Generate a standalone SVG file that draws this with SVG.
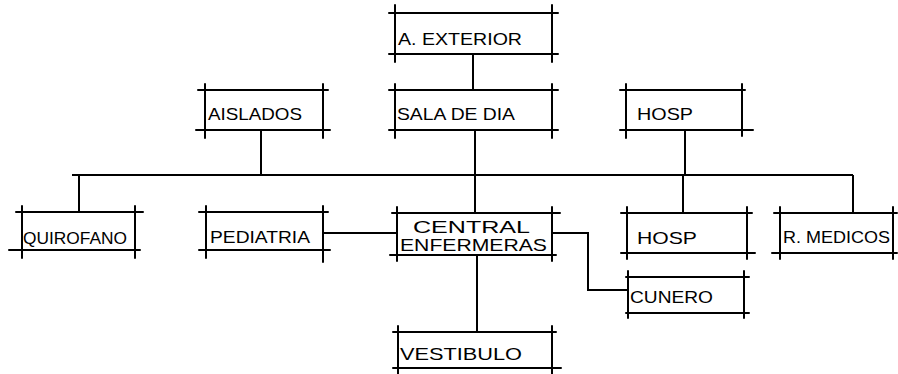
<svg xmlns="http://www.w3.org/2000/svg" width="898" height="374" viewBox="0 0 898 374">
<style>
.b{fill:none;stroke:#000;stroke-width:2;stroke-linecap:round}
.c{fill:none;stroke:#000;stroke-width:2}
.t{font-family:"Liberation Sans","DejaVu Sans",sans-serif;font-size:17px;fill:#000}
</style>
<rect width="898" height="374" fill="#fff"/>
<g id="connectors">
<path class="c" d="M473 54V90"/>
<path class="c" d="M475 130V213"/>
<path class="c" d="M261 130V175"/>
<path class="c" d="M685 130V175"/>
<path class="c" d="M72 175H853"/>
<path class="c" d="M79 175V212"/>
<path class="c" d="M683 175V213"/>
<path class="c" d="M853 175V213"/>
<path class="c" d="M323 233H397"/>
<path class="c" d="M552 233H588V290H628"/>
<path class="c" d="M477 255V332"/>
</g>
<g id="exterior">
<path class="b" d="M389 13H558M389 54H558M395 5V62M552 5V62"/>
<text class="t" x="398" y="45" textLength="124" lengthAdjust="spacingAndGlyphs">A. EXTERIOR</text>
</g>
<g id="aislados">
<path class="b" d="M198 90H328M196 130H330M205 84V138M323 84V138"/>
<text class="t" x="208" y="120" textLength="94" lengthAdjust="spacingAndGlyphs">AISLADOS</text>
</g>
<g id="sala">
<path class="b" d="M389 90H558M389 130H558M395 84V138M552 84V138"/>
<text class="t" x="397" y="120" textLength="118" lengthAdjust="spacingAndGlyphs">SALA DE DIA</text>
</g>
<g id="hosp-top">
<path class="b" d="M620 90H745M620 130H753M626 84V138M742 84V136"/>
<text class="t" x="637" y="120" textLength="56" lengthAdjust="spacingAndGlyphs">HOSP</text>
</g>
<g id="quirofano">
<path class="b" d="M16 212H143M9 250H140M22 206V258M135 206V258"/>
<text class="t" x="23" y="244" textLength="104" lengthAdjust="spacingAndGlyphs">QUIROFANO</text>
</g>
<g id="pediatria">
<path class="b" d="M199 212H328M199 250H330M206 206V258M323 206V262"/>
<text class="t" x="210" y="243" textLength="100" lengthAdjust="spacingAndGlyphs">PEDIATRIA</text>
</g>
<g id="central">
<path class="b" d="M392 213H560M390 255H556M397 207V261M552 207V261"/>
<text class="t" x="413" y="233" textLength="117" lengthAdjust="spacingAndGlyphs">CENTRAL</text>
<text class="t" x="400" y="251" textLength="147" lengthAdjust="spacingAndGlyphs">ENFERMERAS</text>
</g>
<g id="hosp">
<path class="b" d="M621 213H752M621 253H755M627 207V259M747 207V259"/>
<text class="t" x="637" y="244" textLength="60" lengthAdjust="spacingAndGlyphs">HOSP</text>
</g>
<g id="medicos">
<path class="b" d="M774 213H897M772 253H897M780 207V259M893 207V259"/>
<text class="t" x="783" y="243" textLength="107" lengthAdjust="spacingAndGlyphs">R. MEDICOS</text>
</g>
<g id="cunero">
<path class="b" d="M626 277H749M626 313H749M628 271V318M744 271V318"/>
<text class="t" x="630" y="303" textLength="83" lengthAdjust="spacingAndGlyphs">CUNERO</text>
</g>
<g id="vestibulo">
<path class="b" d="M393 332H556M393 368H561M398 326V374M552 326V374"/>
<text class="t" x="400" y="360" textLength="122" lengthAdjust="spacingAndGlyphs">VESTIBULO</text>
</g>
</svg>
